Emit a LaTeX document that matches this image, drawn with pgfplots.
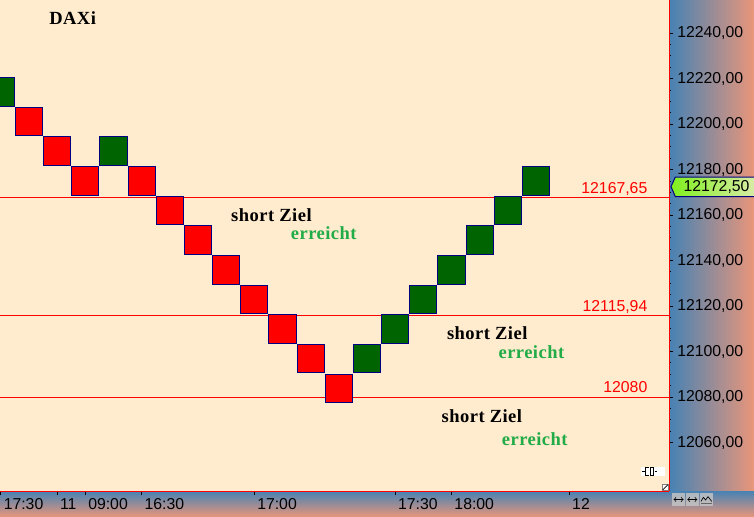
\documentclass[border=0pt]{standalone}
\usepackage{fontspec}
\setmainfont{Liberation Sans}
\newfontfamily\annfont[LetterSpace=2.5]{Liberation Serif}
\usepackage{pgfplots}
\pgfplotsset{compat=1.18}

\definecolor{cream}{RGB}{255,235,205}
\definecolor{steel}{RGB}{70,130,180}
\definecolor{salmon}{RGB}{233,150,122}
\definecolor{boxred}{RGB}{255,0,0}
\definecolor{boxgreen}{RGB}{0,100,0}
\definecolor{boxline}{RGB}{0,0,128}
\definecolor{zielgreen}{RGB}{34,172,72}

\newcommand{\tickfont}{\fontsize{11.85pt}{14pt}\selectfont}
\newcommand{\annsize}{\fontsize{13.9pt}{16pt}\selectfont}

% one renko brick: one column wide, one box (13 points) high
\pgfdeclareplotmark{brick}{%
  \pgfpathrectangle{\pgfpoint{-10.19pt}{-10.75pt}}{\pgfpoint{20.38pt}{21.5pt}}%
  \pgfusepathqfillstroke}

\begin{document}
\begin{tikzpicture}
\useasboundingbox (0,0) rectangle (565.5pt,-387.75pt);
% price scale and time scale panels
\shade[left color=steel, right color=salmon] (501.75pt,0) rectangle (565.5pt,-368.25pt);
\shade[top color=steel, bottom color=salmon] (0,-368.25pt) rectangle (565.5pt,-387.75pt);

\begin{axis}[
  at={(0,0)}, anchor=north west,
  scale only axis,
  width=501.75pt, height=368.25pt,
  xmin=-0.0295, xmax=23.72,
  ymin=12038.7, ymax=12254.6,
  axis background/.style={fill=cream},
  axis x line*=bottom, axis y line*=right,
  axis line style={boxred, line width=0.75pt},
  clip mode=individual,
  xtick={0,2,3,5,9,14,16,20.18},
  xticklabels={17:30,11,09:00,16:30,17:00,17:30,18:00,12},
  ytick={12060,12080,...,12240},
  minor y tick num=3,
  scaled y ticks=false,
  tick align=outside,
  major tick length=3pt, minor tick length=1.5pt,
  tick style={black, line width=0.75pt},
  ticklabel style={font=\tickfont, inner sep=0pt},
  xticklabel style={anchor=north west, xshift=2pt, yshift=-2.5pt},
  yticklabel style={anchor=west, xshift=3pt},
  /pgf/number format/fixed,
  /pgf/number format/fixed zerofill,
  /pgf/number format/precision=2,
  /pgf/number format/use comma,
  /pgf/number format/1000 sep={},
  /pgf/number format/assume math mode=true,
]

% target lines
\addplot[boxred, line width=0.75pt] coordinates {(-1,12167.65) (25,12167.65)};
\addplot[boxred, line width=0.75pt] coordinates {(-1,12115.94) (25,12115.94)};
\addplot[boxred, line width=0.75pt] coordinates {(-1,12080) (25,12080)};

% falling bricks (centres)
\addplot[only marks, mark=brick,
  mark options={fill=boxred, draw=boxline, line width=0.75pt}] coordinates {
  (1,12201.2) (2,12188.1) (3,12175.1) (5,12175.1) (6,12162.1)
  (7,12149.0) (8,12136.0) (9,12122.9) (10,12109.9) (11,12096.9)
  (12,12083.8)
};
% rising bricks (centres)
\addplot[only marks, mark=brick,
  mark options={fill=boxgreen, draw=boxline, line width=0.75pt}] coordinates {
  (0,12214.2) (4,12188.1) (13,12096.9) (14,12109.9) (15,12122.9)
  (16,12136.0) (17,12149.0) (18,12162.1) (19,12175.1)
};

% level labels
\node[anchor=base east, inner sep=0pt, text=boxred, font=\tickfont] at (22.96,12169.45) {12167,65};
\node[anchor=base east, inner sep=0pt, text=boxred, font=\tickfont] at (22.96,12117.74) {12115,94};
\node[anchor=base east, inner sep=0pt, text=boxred, font=\tickfont] at (22.96,12081.8) {12080};

% annotations
\node[anchor=base west, inner sep=0pt, font=\annfont\bfseries\annsize] at (1.71,12243.8) {DAXi};
\node[anchor=base west, inner sep=0pt, font=\annfont\bfseries\annsize] at (8.17,12157.4) {short Ziel};
\node[anchor=base west, inner sep=0pt, font=\annfont\bfseries\annsize, text=zielgreen] at (10.29,12149.1) {erreicht};
\node[anchor=base west, inner sep=0pt, font=\annfont\bfseries\annsize] at (15.83,12105.1) {short Ziel};
\node[anchor=base west, inner sep=0pt, font=\annfont\bfseries\annsize, text=zielgreen] at (17.66,12097.0) {erreicht};
\node[anchor=base west, inner sep=0pt, font=\annfont\bfseries\annsize] at (15.64,12068.9) {short Ziel};
\node[anchor=base west, inner sep=0pt, font=\annfont\bfseries\annsize, text=zielgreen] at (17.78,12058.9) {erreicht};
\end{axis}

% last price tag
\shade[left color={rgb,255:red,128;green,240;blue,30}, right color={rgb,255:red,215;green,235;blue,165}]
  (503.25pt,-140pt) -- (506.5pt,-132.75pt) -- (565.5pt,-132.75pt) -- (565.5pt,-147.5pt) -- (506.5pt,-147.5pt) -- cycle;
\draw[boxline, line width=0.75pt]
  (565.5pt,-132.75pt) -- (506.5pt,-132.75pt) -- (503.25pt,-140pt) -- (506.5pt,-147.5pt) -- (565.5pt,-147.5pt);
\node[inner sep=0pt, font=\tickfont] at (537.4pt,-140.2pt) {12172,50};

% chart tool icons
\fill[white] (480.75pt,-350pt) rectangle (498.75pt,-356.8pt);
\draw[black, line width=0.6pt] (481.5pt,-353.4pt) -- (483.5pt,-353.4pt)
  (486.5pt,-350.6pt) -- (484pt,-350.6pt) -- (484pt,-356.2pt) -- (486.5pt,-356.2pt)
  (487.5pt,-350.6pt) -- (490pt,-350.6pt) -- (490pt,-356.2pt) -- (487.5pt,-356.2pt) -- cycle
  (491pt,-353.4pt) -- (493pt,-353.4pt);
\fill[white] (496.5pt,-363pt) rectangle (501.4pt,-367.9pt);
\draw[gray, line width=0.4pt] (496.5pt,-363pt) rectangle (501.4pt,-367.9pt);
\draw[black, line width=0.5pt] (497pt,-367.4pt) -- (500.9pt,-363.5pt);
\foreach \l in {504.2,514.5,525}{
  \fill[gray!45, opacity=0.8] (\l pt,-370pt) rectangle ++(9.5pt,-9.3pt);
}
\draw[black, line width=0.5pt, <->] (505.2pt,-374.6pt) -- (512.7pt,-374.6pt);
\draw[black, line width=0.5pt, <->] (515.5pt,-374.6pt) -- (523pt,-374.6pt);
\draw[black, line width=0.5pt] (525.8pt,-376pt) -- (527.5pt,-373pt) -- (529.2pt,-375pt) -- (531pt,-372.5pt) -- (533.8pt,-376pt);
\draw[black!60, line width=0.6pt] (525.8pt,-377.5pt) -- (533.8pt,-377.5pt);
\end{tikzpicture}
\end{document}
